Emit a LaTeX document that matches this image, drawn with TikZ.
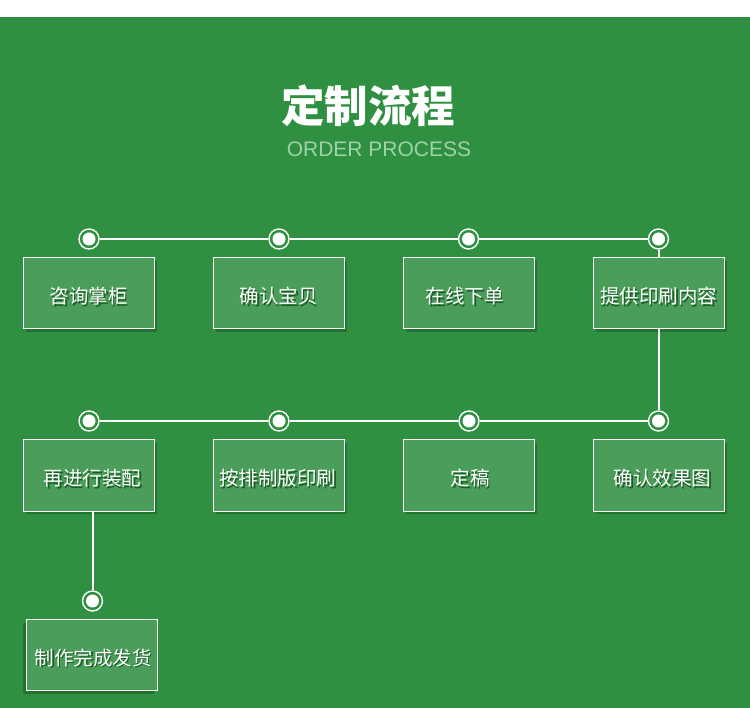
\documentclass[tikz,border=0pt]{standalone}
\usepackage{fontspec}
\setmainfont{Liberation Sans}
\newfontfamily\cjk{Noto Sans CJK SC}
\usetikzlibrary{shadows}
\definecolor{bg}{RGB}{46,144,64}
\definecolor{boxfill}{RGB}{74,158,89}
\definecolor{subtxt}{RGB}{160,210,168}
\definecolor{shd}{RGB}{20,80,30}
\tikzset{
  stepbox/.style={draw=white, line width=1pt, fill=boxfill, minimum width=131pt, minimum height=71pt, inner sep=0pt,
    drop shadow={shadow xshift=3pt, shadow yshift=-3pt, fill=shd, opacity=0.45}},
  stepboxl/.style={draw=white, line width=1pt, fill=boxfill, minimum width=131pt, minimum height=71pt, inner sep=0pt,
    drop shadow={shadow xshift=-3pt, shadow yshift=-3pt, fill=shd, opacity=0.45}},
  lbl/.style={font=\cjk\fontsize{19.5}{22}\selectfont, text=white, inner sep=0pt},
  lblsh/.style={font=\cjk\fontsize{19.5}{22}\selectfont, text=shd, opacity=0.85, inner sep=0pt},
  dot/.style={circle, draw=white, line width=1.4pt, fill=bg, minimum size=20pt, inner sep=0pt,
    path picture={\fill[white] (path picture bounding box.center) circle (6.5pt);}},
  wire/.style={draw=white, line width=2pt}
}
\newcommand{\steplabel}[3]{%
  \node[lblsh] at ([shift={(#3+1.5,4.5)}]#1.center) {#2};
  \node[lbl] at ([shift={(#3,3)}]#1.center) {#2};}
\begin{document}
\begin{tikzpicture}[x=1pt,y=-1pt]
\useasboundingbox (0,0) rectangle (750,708);
\fill[white] (0,0) rectangle (750,17);
\fill[bg] (0,17) rectangle (750,708);

% title
\node[font=\cjk\bfseries\fontsize{43.5}{46}\selectfont, text=white, inner sep=0pt] (title) at (368,106) {定制流程};
\node[font=\fontsize{21}{24}\selectfont, text=subtxt, inner sep=0pt] (sub) at (379,149) {ORDER PROCESS};

% boxes row 1
\node[stepbox] (b1) at (88.5,293.5) {};
\node[stepbox] (b2) at (278.5,293.5) {};
\node[stepbox] (b3) at (468.5,293.5) {};
\node[stepbox] (b4) at (658.5,293.5) {};
% boxes row 2
\node[stepbox] (b5) at (658.5,475.5) {};
\node[stepbox] (b6) at (468.5,475.5) {};
\node[stepbox] (b7) at (278.5,475.5) {};
\node[stepbox] (b8) at (88.5,475.5) {};
% last box
\node[stepboxl] (b9) at (91.5,655) {};

% dots
\node[dot] (d1) at (89,239) {};
\node[dot] (d2) at (279,239) {};
\node[dot] (d3) at (468.5,239) {};
\node[dot] (d4) at (658.5,239) {};
\node[dot] (e4) at (658.5,421) {};
\node[dot] (e3) at (469,421) {};
\node[dot] (e2) at (279,421) {};
\node[dot] (e1) at (89,421) {};
\node[dot] (f1) at (92.5,601) {};

% wires
\draw[wire] (d1) -- (d2);
\draw[wire] (d2) -- (d3);
\draw[wire] (d3) -- (d4);
\draw[wire] (d4) -- (b4.north);
\draw[wire] (b4.south) -- (e4);
\draw[wire] (e4) -- (e3);
\draw[wire] (e3) -- (e2);
\draw[wire] (e2) -- (e1);
\coordinate (b8s) at (92.5,511);
\draw[wire] (b8s) -- (f1);

% labels
\steplabel{b1}{咨询掌柜}{0}
\steplabel{b2}{确认宝贝}{0}
\steplabel{b3}{在线下单}{-4}
\steplabel{b4}{提供印刷内容}{0}
\steplabel{b5}{确认效果图}{4}
\steplabel{b6}{定稿}{1.5}
\steplabel{b7}{按排制版印刷}{-1}
\steplabel{b8}{再进行装配}{4}
\steplabel{b9}{制作完成发货}{1.5}
\end{tikzpicture}
\end{document}
